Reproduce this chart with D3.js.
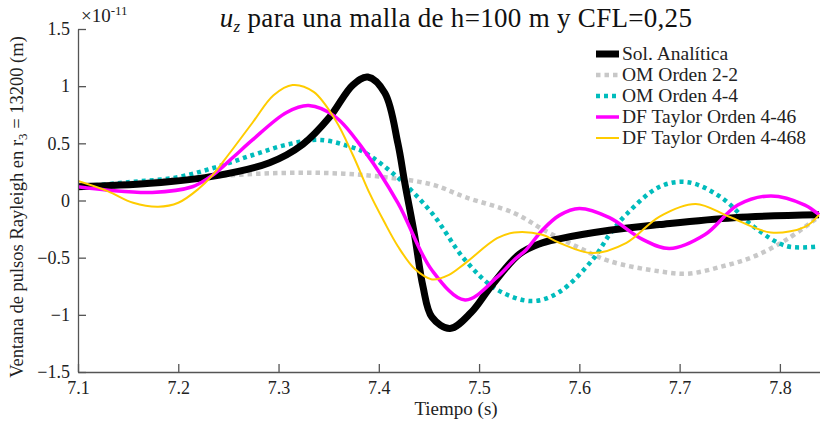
<!DOCTYPE html>
<html>
<head>
<meta charset="utf-8">
<script src="https://cdn.jsdelivr.net/npm/d3@7"></script>
<style>
  body { margin: 0; background: #fff; }
  svg { display: block; }
  text { font-family: "Liberation Serif", "DejaVu Serif", serif; }
</style>
</head>
<body>
<svg id="chart" width="820" height="423"></svg>
<script>
// values are in units of 1e-11 m
const xTicks = [7.1, 7.2, 7.3, 7.4, 7.5, 7.6, 7.7, 7.8]
const yTicks = [-1.5, -1, -0.5, 0, 0.5, 1, 1.5]

const analiticaT = [7.1, 7.172, 7.24, 7.291, 7.324, 7.351, 7.374, 7.389, 7.406, 7.419, 7.426, 7.436, 7.444, 7.453, 7.471, 7.492, 7.512, 7.54, 7.56, 7.58, 7.63, 7.68, 7.754, 7.839]
const analiticaV = [0.12, 0.15, 0.22, 0.33, 0.49, 0.73, 1.01, 1.08, 0.94, 0.5, 0.15, -0.32, -0.75, -1.02, -1.12, -0.98, -0.75, -0.47, -0.38, -0.335, -0.26, -0.21, -0.15, -0.125]

const om22T = [7.1, 7.15, 7.2, 7.25, 7.3, 7.35, 7.4, 7.453, 7.486, 7.535, 7.565, 7.599, 7.63, 7.68, 7.708, 7.741, 7.774, 7.807, 7.839]
const om22V = [0.12, 0.15, 0.19, 0.22, 0.24, 0.24, 0.21, 0.14, 0.03, -0.11, -0.26, -0.41, -0.53, -0.62, -0.64, -0.58, -0.49, -0.34, -0.14]

const om44T = [7.1, 7.15, 7.197, 7.237, 7.275, 7.309, 7.342, 7.375, 7.386, 7.419, 7.453, 7.486, 7.518, 7.553, 7.58, 7.613, 7.63, 7.647, 7.68, 7.708, 7.741, 7.774, 7.807, 7.839]
const om44V = [0.12, 0.16, 0.2, 0.29, 0.4, 0.49, 0.53, 0.46, 0.42, 0.2, -0.11, -0.52, -0.78, -0.88, -0.8, -0.52, -0.3, -0.12, 0.12, 0.16, 0.03, -0.23, -0.4, -0.4]

const df446T = [7.1, 7.13, 7.174, 7.214, 7.234, 7.255, 7.274, 7.308, 7.33, 7.357, 7.386, 7.419, 7.453, 7.486, 7.518, 7.535, 7.547, 7.563, 7.58, 7.6, 7.63, 7.663, 7.69, 7.725, 7.758, 7.791, 7.825, 7.839]
const df446V = [0.12, 0.09, 0.07, 0.12, 0.22, 0.38, 0.53, 0.77, 0.83, 0.73, 0.43, -0.02, -0.61, -0.87, -0.67, -0.52, -0.43, -0.26, -0.13, -0.07, -0.15, -0.34, -0.42, -0.3, -0.04, 0.04, -0.04, -0.125]

const df4468T = [7.1, 7.13, 7.155, 7.18, 7.2, 7.22, 7.234, 7.25, 7.274, 7.295, 7.314, 7.335, 7.357, 7.374, 7.391, 7.405, 7.419, 7.436, 7.453, 7.47, 7.486, 7.518, 7.535, 7.563, 7.58, 7.613, 7.647, 7.68, 7.716, 7.749, 7.791, 7.825, 7.839]
const df4468V = [0.17, 0.08, -0.02, -0.055, -0.02, 0.1, 0.22, 0.4, 0.68, 0.92, 1.01, 0.95, 0.7, 0.4, 0.06, -0.18, -0.4, -0.6, -0.69, -0.65, -0.55, -0.33, -0.28, -0.3, -0.37, -0.46, -0.37, -0.14, -0.03, -0.14, -0.28, -0.23, -0.125]

const seriesNames = ['Sol. Analítica', 'OM Orden 2-2', 'OM Orden 4-4', 'DF Taylor Orden 4-46', 'DF Taylor Orden 4-468']

const width = 820
const height = 423
const margin = { top: 29, right: 0, bottom: 51, left: 78 }

const svg = d3.select('#chart')

const x = d3.scaleLinear().domain([7.1, 7.84]).range([margin.left, width - margin.right])
const y = d3.scaleLinear().domain([-1.5, 1.5]).range([height - margin.bottom, margin.top])

const series = [
  { name: seriesNames[0], t: analiticaT, v: analiticaV, color: '#000000', w: 7, dash: null },
  { name: seriesNames[1], t: om22T, v: om22V, color: '#c8c8c8', w: 4.5, dash: '4.5,4' },
  { name: seriesNames[2], t: om44T, v: om44V, color: '#00bcbc', w: 4.5, dash: '4,4' },
  { name: seriesNames[3], t: df446T, v: df446V, color: '#ff00ff', w: 3.5, dash: null },
  { name: seriesNames[4], t: df4468T, v: df4468V, color: '#ffcc00', w: 2, dash: null }
]

svg.append('defs').append('clipPath').attr('id', 'clip')
  .append('rect')
  .attr('x', margin.left).attr('y', 0)
  .attr('width', width - margin.left).attr('height', height - margin.bottom)

const line = d3.line()
  .x(d => x(d[0]))
  .y(d => y(d[1]))
  .curve(d3.curveCatmullRom.alpha(0.5))

// draw order: gray and cyan under, then black, then magenta, yellow
const drawOrder = [1, 2, 0, 3, 4]
drawOrder.forEach(i => {
  const s = series[i]
  svg.append('path')
    .attr('clip-path', 'url(#clip)')
    .attr('d', line(s.t.map((t, j) => [t, s.v[j]])))
    .attr('fill', 'none')
    .attr('stroke', s.color)
    .attr('stroke-width', s.w)
    .attr('stroke-dasharray', s.dash)
    .attr('stroke-linejoin', 'round')
})

// axes (ticks point inward)
const axisColor = '#555'
const xAxis = svg.append('g')
  .attr('transform', 'translate(0,' + (height - margin.bottom) + ')')
  .call(d3.axisBottom(x).tickValues(xTicks).tickSizeInner(-8).tickSizeOuter(0).tickPadding(12).tickFormat(d3.format('.1f')))
const yAxis = svg.append('g')
  .attr('transform', 'translate(' + margin.left + ',0)')
  .call(d3.axisLeft(y).tickValues(yTicks).tickSizeInner(-8).tickSizeOuter(0).tickPadding(14).tickFormat(d => d3.format('')(d)))

;[xAxis, yAxis].forEach(g => {
  g.attr('font-family', null).attr('font-size', null)
  g.select('.domain').attr('stroke', axisColor).attr('stroke-width', 1.3)
  g.selectAll('.tick line').attr('stroke', axisColor).attr('stroke-width', 1.3)
  g.selectAll('.tick text').attr('fill', '#222').style('font-size', '18px')
})
xAxis.selectAll('.tick text').attr('dy', '0.55em')
yAxis.selectAll('.tick text').attr('dx', '6')

// exponent
const expo = svg.append('text').attr('x', 81).attr('y', 22)
  .style('font-size', '19px').attr('fill', '#222')
expo.append('tspan').text('×10')
expo.append('tspan').attr('dy', -7).style('font-size', '13px').text('-11')

// title
const title = svg.append('text').attr('x', 456).attr('y', 27)
  .attr('text-anchor', 'middle').style('font-size', '27px').attr('fill', '#111')
  .style('letter-spacing', '0.3px')
title.append('tspan').style('font-style', 'italic').text('u')
title.append('tspan').attr('dy', 5).style('font-size', '17px').style('font-style', 'italic').text('z')
title.append('tspan').attr('dy', -5).text(' para una malla de h=100 m y CFL=0,25')

// x label
svg.append('text').attr('x', 456).attr('y', 415)
  .attr('text-anchor', 'middle').style('font-size', '19px').attr('fill', '#222')
  .text('Tiempo (s)')

// y label
const yl = svg.append('text')
  .attr('transform', 'translate(23,' + 207 + ') rotate(-90)')
  .attr('text-anchor', 'middle').style('font-size', '18.5px').attr('fill', '#222')
yl.append('tspan').text('Ventana de pulsos Rayleigh en r')
yl.append('tspan').attr('dy', 4).style('font-size', '13px').text('3')
yl.append('tspan').attr('dy', -4).text(' = 13200 (m)')

// legend
const legend = svg.append('g').attr('transform', 'translate(596,54)')
series.forEach((s, i) => {
  const g = legend.append('g').attr('transform', 'translate(0,' + i * 21 + ')')
  g.append('line')
    .attr('x1', 0).attr('x2', 23).attr('y1', 0).attr('y2', 0)
    .attr('stroke', s.color)
    .attr('stroke-width', i === 0 ? 7 : (i === 4 ? 2 : (i === 3 ? 3.5 : 4.5)))
    .attr('stroke-dasharray', s.dash)
  g.append('text').attr('x', 26).attr('y', 6)
    .style('font-size', '19.5px').attr('fill', '#222')
    .text(s.name)
})
</script>
</body>
</html>
